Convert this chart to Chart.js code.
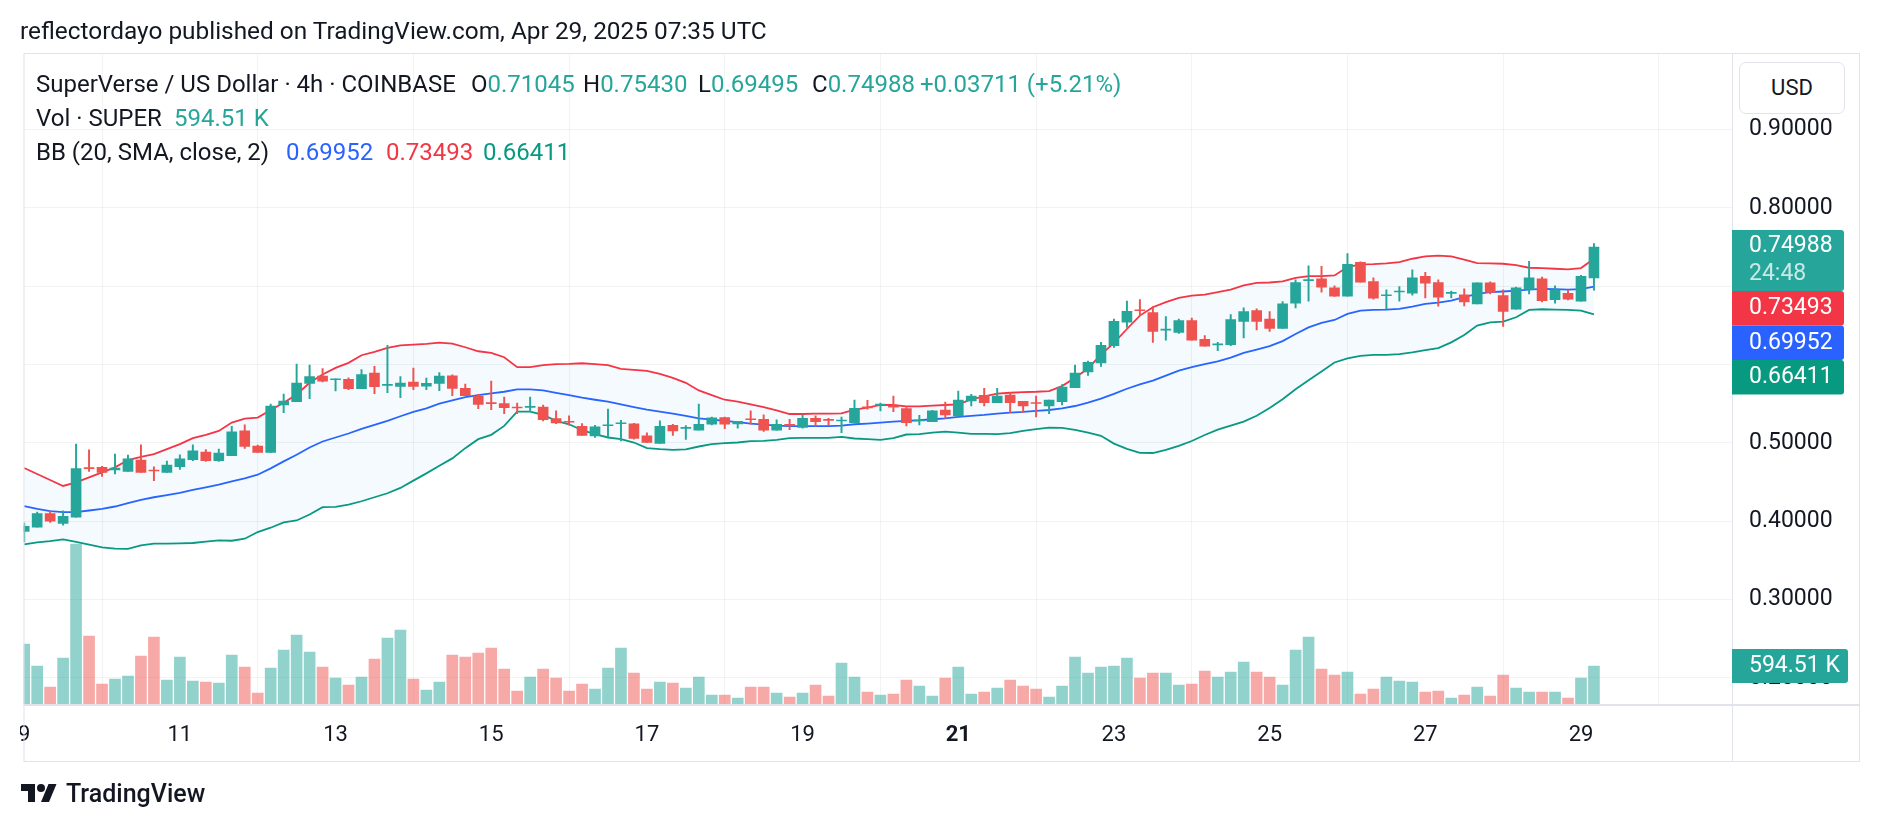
<!DOCTYPE html>
<html>
<head>
<meta charset="utf-8">
<script src="https://cdn.jsdelivr.net/npm/chart.js@4.4.1/dist/chart.umd.min.js"></script>
<style>
  body { margin: 0; background: #fff; font-family: Roboto, sans-serif; color: #131722; }
  #wrap { position: relative; width: 1878px; height: 830px; overflow: hidden; }
  canvas { position: absolute; left: 0; top: 0; }
  .t { position: absolute; white-space: nowrap; line-height: 1; }
  .up { color: #26a69a; }
  #usd { position: absolute; left: 1739px; top: 62px; width: 104px; height: 50px; border: 1px solid #e0e3eb;
         border-radius: 7px; font-size: 22px; line-height: 50px; text-align: center; background: #fff; }
  #clip { position: absolute; left: 0; top: 707px; width: 20px; height: 54px; background: #fff; }
</style>
</head>
<body>
<div id="wrap">
  <canvas id="chart" width="1878" height="830"></canvas>
  <div id="clip"></div>

  <div class="t" style="left:20px;top:19px;font-size:24.4px">reflectordayo published on TradingView.com, Apr 29, 2025 07:35 UTC</div>

  <div class="t" style="left:36px;top:72px;font-size:24px">SuperVerse / US Dollar · 4h · COINBASE</div>
  <div class="t" style="left:471px;top:72px;font-size:24px">O<span class="up">0.71045</span></div>
  <div class="t" style="left:583px;top:72px;font-size:24px">H<span class="up">0.75430</span></div>
  <div class="t" style="left:698px;top:72px;font-size:24px">L<span class="up">0.69495</span></div>
  <div class="t" style="left:812px;top:72px;font-size:24px">C<span class="up">0.74988</span></div>
  <div class="t up" style="left:920px;top:72px;font-size:24px">+0.03711 (+5.21%)</div>

  <div class="t" style="left:36px;top:106px;font-size:24px">Vol · SUPER</div>
  <div class="t up" style="left:174px;top:106px;font-size:24px">594.51 K</div>

  <div class="t" style="left:36px;top:140px;font-size:24px">BB (20, SMA, close, 2)</div>
  <div class="t" style="left:286px;top:140px;font-size:24px;color:#2962ff">0.69952</div>
  <div class="t" style="left:386px;top:140px;font-size:24px;color:#f23645">0.73493</div>
  <div class="t" style="left:483px;top:140px;font-size:24px;color:#089981">0.66411</div>

  <div id="usd">USD</div>

  <svg style="position:absolute;left:21px;top:780px" width="36" height="28" viewBox="0 0 36 28">
    <path d="M14 22H7V11H0V4h14v18z" fill="#131722"/>
    <circle cx="20" cy="8" r="4" fill="#131722"/>
    <path d="M28 22h-8l7.5-18h8L28 22z" fill="#131722"/>
  </svg>
  <div class="t" style="left:66px;top:781px;font-size:25px;font-weight:500">TradingView</div>
</div>

<script>
// 4h bars, index 0 = Apr 9 00:00 UTC, last = Apr 29 04:00 UTC
const dayTicks = [0, 12, 24, 36, 48, 60, 72, 84, 96, 108, 120];
const dayLabels = ['9', '11', '13', '15', '17', '19', '21', '23', '25', '27', '29'];
const priceTicks = [0.2, 0.3, 0.4, 0.5, 0.6, 0.7, 0.8, 0.9];

const opens = [
  0.3869, 0.3924, 0.4098, 0.3971, 0.4051, 0.4678, 0.4687, 0.4653, 0.4636, 0.4780,
  0.4648, 0.4623, 0.4695, 0.4784, 0.4881, 0.4771, 0.4835, 0.5152, 0.4958, 0.4877,
  0.5483, 0.5525, 0.5758, 0.5851, 0.5805, 0.5809, 0.5690, 0.5889, 0.5733, 0.5720,
  0.5775, 0.5724, 0.5758, 0.5855, 0.5695, 0.5597, 0.5508, 0.5500, 0.5457, 0.5453,
  0.5457, 0.5309, 0.5269, 0.5212, 0.5089, 0.5218, 0.5244, 0.5241, 0.5089, 0.4991,
  0.5224, 0.5184, 0.5161, 0.5237, 0.5322, 0.5241, 0.5299, 0.5301, 0.5161, 0.5226,
  0.5195, 0.5313, 0.5290, 0.5278, 0.5258, 0.5451, 0.5481, 0.5459, 0.5436, 0.5278,
  0.5271, 0.5419, 0.5343, 0.5534, 0.5606, 0.5512, 0.5610, 0.5529, 0.5506, 0.5470,
  0.5525, 0.5703, 0.5906, 0.6021, 0.6239, 0.6539, 0.6690, 0.6662, 0.6438, 0.6410,
  0.6560, 0.6320, 0.6250, 0.6252, 0.6551, 0.6688, 0.6581, 0.6462, 0.6782, 0.7071,
  0.7094, 0.6979, 0.6872, 0.7303, 0.7060, 0.6878, 0.6925, 0.6910, 0.7124, 0.7047,
  0.6908, 0.6889, 0.6774, 0.7043, 0.6880, 0.6705, 0.6957, 0.7094, 0.6829, 0.6910,
  0.6808, 0.71045
];
const highs = [
  0.3979, 0.4115, 0.4132, 0.4132, 0.4983, 0.4911, 0.4699, 0.4856, 0.4843, 0.4974,
  0.4695, 0.4767, 0.4847, 0.4974, 0.4915, 0.4919, 0.5212, 0.5229, 0.4970, 0.5495,
  0.5623, 0.6004, 0.5991, 0.5949, 0.5817, 0.5830, 0.5936, 0.5978, 0.6245, 0.5847,
  0.5953, 0.5826, 0.5898, 0.5868, 0.5750, 0.5618, 0.5788, 0.5584, 0.5508, 0.5584,
  0.5483, 0.5407, 0.5343, 0.5246, 0.5224, 0.5432, 0.5288, 0.5250, 0.5127, 0.5280,
  0.5237, 0.5220, 0.5496, 0.5330, 0.5330, 0.5275, 0.5407, 0.5356, 0.5292, 0.5301,
  0.5356, 0.5343, 0.5313, 0.5330, 0.5546, 0.5542, 0.5508, 0.5597, 0.5449, 0.5352,
  0.5415, 0.5521, 0.5661, 0.5618, 0.5695, 0.5695, 0.5639, 0.5529, 0.5597, 0.5546,
  0.5745, 0.5991, 0.6042, 0.6283, 0.6581, 0.6808, 0.6829, 0.6739, 0.6611, 0.6581,
  0.6594, 0.6368, 0.6282, 0.6637, 0.6722, 0.6709, 0.6675, 0.6803, 0.7081, 0.7261,
  0.7252, 0.7004, 0.7415, 0.7312, 0.7107, 0.6953, 0.6996, 0.7209, 0.7175, 0.7081,
  0.6936, 0.6966, 0.7043, 0.7056, 0.6953, 0.6987, 0.7316, 0.7115, 0.7004, 0.6944,
  0.7137, 0.75430
];
const lows = [
  0.3734, 0.3924, 0.3983, 0.3950, 0.4051, 0.4636, 0.4572, 0.4602, 0.4636, 0.4623,
  0.4517, 0.4623, 0.4661, 0.4771, 0.4763, 0.4763, 0.4835, 0.4928, 0.4877, 0.4877,
  0.5385, 0.5525, 0.5563, 0.5779, 0.5661, 0.5678, 0.5690, 0.5627, 0.5639, 0.5576,
  0.5678, 0.5678, 0.5665, 0.5601, 0.5601, 0.5436, 0.5423, 0.5373, 0.5373, 0.5394,
  0.5280, 0.5246, 0.5224, 0.5093, 0.5068, 0.5076, 0.5025, 0.5047, 0.5004, 0.4991,
  0.5093, 0.5042, 0.5161, 0.5229, 0.5182, 0.5186, 0.5237, 0.5144, 0.5161, 0.5169,
  0.5186, 0.5216, 0.5220, 0.5131, 0.5258, 0.5428, 0.5407, 0.5398, 0.5216, 0.5229,
  0.5271, 0.5313, 0.5343, 0.5470, 0.5470, 0.5512, 0.5385, 0.5385, 0.5330, 0.5373,
  0.5483, 0.5703, 0.5860, 0.5974, 0.6218, 0.6474, 0.6624, 0.6282, 0.6312, 0.6397,
  0.6312, 0.6235, 0.6175, 0.6239, 0.6338, 0.6440, 0.6423, 0.6462, 0.6722, 0.6808,
  0.6923, 0.6868, 0.6872, 0.7051, 0.6833, 0.6714, 0.6808, 0.6885, 0.6850, 0.6744,
  0.6850, 0.6748, 0.6774, 0.6902, 0.6487, 0.6705, 0.6902, 0.6799, 0.6782, 0.6825,
  0.6808, 0.69495
];
const closes = [
  0.3933, 0.4098, 0.4000, 0.4060, 0.4670, 0.4670, 0.4623, 0.4678, 0.4797, 0.4623,
  0.4640, 0.4716, 0.4797, 0.4898, 0.4771, 0.4869, 0.5140, 0.4953, 0.4877, 0.5470,
  0.5534, 0.5762, 0.5847, 0.5788, 0.5817, 0.5690, 0.5872, 0.5716, 0.5741, 0.5762,
  0.5720, 0.5758, 0.5851, 0.5695, 0.5601, 0.5491, 0.5500, 0.5449, 0.5445, 0.5461,
  0.5297, 0.5254, 0.5263, 0.5093, 0.5203, 0.5222, 0.5248, 0.5055, 0.5004, 0.5212,
  0.5152, 0.5188, 0.5237, 0.5318, 0.5237, 0.5275, 0.5295, 0.5161, 0.5237, 0.5222,
  0.5313, 0.5271, 0.5286, 0.5282, 0.5440, 0.5447, 0.5485, 0.5455, 0.5258, 0.5282,
  0.5407, 0.5356, 0.5546, 0.5597, 0.5512, 0.5597, 0.5512, 0.5470, 0.5502, 0.5546,
  0.5712, 0.5889, 0.6029, 0.6245, 0.6551, 0.6679, 0.6686, 0.6423, 0.6442, 0.6560,
  0.6312, 0.6235, 0.6254, 0.6573, 0.6675, 0.6551, 0.6462, 0.6774, 0.7047, 0.7075,
  0.6987, 0.6872, 0.7278, 0.7051, 0.6846, 0.6882, 0.6929, 0.7107, 0.7038, 0.6859,
  0.6912, 0.6799, 0.7043, 0.6919, 0.6679, 0.6979, 0.7107, 0.6816, 0.6953, 0.6833,
  0.7124, 0.74988
];
// volume in thousands of SUPER
const volumes = [
  939, 595, 266, 720, 2504, 1064, 313, 391, 438, 751,
  1048, 376, 736, 360, 344, 329, 767, 579, 172, 563,
  845, 1080, 814, 579, 407, 297, 423, 704, 1033, 1158,
  391, 219, 344, 767, 736, 798, 876, 548, 203, 423,
  548, 407, 203, 313, 235, 563, 876, 485, 235, 344,
  329, 250, 423, 141, 141, 94, 266, 266, 172, 110,
  172, 297, 125, 642, 423, 188, 141, 157, 376, 282,
  125, 407, 579, 157, 188, 250, 376, 282, 235, 110,
  282, 736, 485, 579, 595, 720, 407, 485, 485, 297,
  313, 516, 423, 501, 657, 501, 423, 297, 845, 1048,
  548, 454, 501, 157, 235, 423, 360, 344, 188, 203,
  94, 141, 266, 125, 454, 250, 188, 188, 188, 94,
  407, 594.51
];
const bbUpper = [
  0.4678, 0.4602, 0.4526, 0.4449, 0.4496, 0.4559, 0.4623, 0.4687, 0.4780, 0.4822,
  0.4856, 0.4919, 0.4983, 0.5059, 0.5102, 0.5152, 0.5258, 0.5309, 0.5322, 0.5419,
  0.5512, 0.5618, 0.5766, 0.5872, 0.5957, 0.6021, 0.6118, 0.6160, 0.6211, 0.6245,
  0.6254, 0.6262, 0.6279, 0.6266, 0.6220, 0.6169, 0.6148, 0.6093, 0.5966, 0.5966,
  0.5991, 0.6004, 0.6008, 0.6016, 0.6004, 0.5991, 0.5944, 0.5932, 0.5919, 0.5881,
  0.5830, 0.5766, 0.5669, 0.5610, 0.5550, 0.5525, 0.5491, 0.5457, 0.5415, 0.5368,
  0.5368, 0.5373, 0.5373, 0.5377, 0.5423, 0.5449, 0.5483, 0.5483, 0.5466, 0.5466,
  0.5474, 0.5483, 0.5491, 0.5555, 0.5593, 0.5627, 0.5639, 0.5648, 0.5652, 0.5661,
  0.5724, 0.5830, 0.5949, 0.6127, 0.6275, 0.6453, 0.6624, 0.6731, 0.6795, 0.6850,
  0.6880, 0.6893, 0.6923, 0.6957, 0.7009, 0.7043, 0.7047, 0.7060, 0.7107, 0.7128,
  0.7128, 0.7137, 0.7244, 0.7278, 0.7282, 0.7291, 0.7308, 0.7350, 0.7380, 0.7389,
  0.7380, 0.7338, 0.7295, 0.7291, 0.7286, 0.7269, 0.7235, 0.7231, 0.7222, 0.7214,
  0.7231, 0.73493
];
const bbMiddle = [
  0.4191, 0.4157, 0.4127, 0.4115, 0.4115, 0.4136, 0.4157, 0.4187, 0.4229, 0.4271,
  0.4305, 0.4331, 0.4360, 0.4398, 0.4432, 0.4466, 0.4509, 0.4547, 0.4593, 0.4674,
  0.4763, 0.4847, 0.4941, 0.5017, 0.5068, 0.5119, 0.5178, 0.5229, 0.5280, 0.5339,
  0.5394, 0.5440, 0.5500, 0.5542, 0.5584, 0.5610, 0.5631, 0.5652, 0.5682, 0.5682,
  0.5669, 0.5639, 0.5610, 0.5576, 0.5550, 0.5525, 0.5491, 0.5457, 0.5423, 0.5398,
  0.5373, 0.5343, 0.5313, 0.5297, 0.5280, 0.5263, 0.5246, 0.5233, 0.5220, 0.5212,
  0.5212, 0.5212, 0.5212, 0.5220, 0.5237, 0.5246, 0.5258, 0.5271, 0.5280, 0.5288,
  0.5301, 0.5313, 0.5330, 0.5343, 0.5356, 0.5373, 0.5385, 0.5394, 0.5407, 0.5419,
  0.5440, 0.5470, 0.5512, 0.5563, 0.5624, 0.5690, 0.5747, 0.5794, 0.5857, 0.5921,
  0.5966, 0.6006, 0.6040, 0.6087, 0.6149, 0.6191, 0.6234, 0.6298, 0.6390, 0.6474,
  0.6530, 0.6568, 0.6645, 0.6688, 0.6697, 0.6701, 0.6709, 0.6739, 0.6774, 0.6791,
  0.6816, 0.6859, 0.6902, 0.6923, 0.6932, 0.6944, 0.6957, 0.6966, 0.6962, 0.6957,
  0.6962, 0.69952
];
const bbLower = [
  0.3704, 0.3729, 0.3746, 0.3767, 0.3734, 0.3700, 0.3666, 0.3649, 0.3645, 0.3691,
  0.3712, 0.3712, 0.3717, 0.3721, 0.3738, 0.3755, 0.3750, 0.3776, 0.3861, 0.3916,
  0.3983, 0.4009, 0.4085, 0.4178, 0.4182, 0.4212, 0.4254, 0.4305, 0.4356, 0.4424,
  0.4517, 0.4610, 0.4708, 0.4801, 0.4932, 0.5047, 0.5102, 0.5216, 0.5398, 0.5398,
  0.5356, 0.5280, 0.5237, 0.5161, 0.5110, 0.5068, 0.5047, 0.5004, 0.4932, 0.4919,
  0.4911, 0.4915, 0.4953, 0.4983, 0.4996, 0.5004, 0.5021, 0.5025, 0.5038, 0.5059,
  0.5063, 0.5063, 0.5063, 0.5076, 0.5055, 0.5047, 0.5038, 0.5059, 0.5106, 0.5110,
  0.5131, 0.5144, 0.5131, 0.5114, 0.5114, 0.5110, 0.5123, 0.5152, 0.5174, 0.5195,
  0.5190, 0.5165, 0.5131, 0.5089, 0.4990, 0.4923, 0.4872, 0.4870, 0.4911, 0.4961,
  0.5023, 0.5100, 0.5168, 0.5220, 0.5270, 0.5346, 0.5445, 0.5556, 0.5683, 0.5799,
  0.5910, 0.6026, 0.6077, 0.6111, 0.6124, 0.6124, 0.6132, 0.6154, 0.6184, 0.6210,
  0.6282, 0.6376, 0.6496, 0.6539, 0.6547, 0.6603, 0.6697, 0.6705, 0.6701, 0.6697,
  0.6688, 0.66411
];

const UP = '#26a69a', DOWN = '#ef5350';
const GRID = 'rgba(42,46,57,0.06)';
const FONT = 'Roboto, sans-serif';

const isUp = closes.map((c, i) => c >= opens[i]);
const candleColors = isUp.map(u => u ? UP : DOWN);
const volColors = isUp.map(u => u ? 'rgba(38,166,154,0.5)' : 'rgba(239,83,80,0.5)');

const bodyData = closes.map((c, i) => ({ x: i, y: [opens[i], c] }));
const wickData = closes.map((c, i) => ({ x: i, y: [lows[i], highs[i]] }));
const volData = volumes.map((v, i) => ({ x: i, y: v }));
const line = arr => arr.map((v, i) => ({ x: i, y: v }));

// right-hand price / volume labels and pane frame
const sideLabels = {
  id: 'sideLabels',
  afterDraw(chart) {
    const { ctx, chartArea: a } = chart;
    const y = chart.scales.y, yv = chart.scales.yv;
    const frameR = chart.width - 19, frameB = chart.height - 68;
    ctx.save();
    ctx.strokeStyle = '#e0e3eb';
    ctx.lineWidth = 1;
    ctx.strokeRect(a.left + 0.5, a.top - 0.5, frameR - a.left, frameB - a.top);
    ctx.beginPath();
    ctx.moveTo(a.right + 0.5, a.top - 1);
    ctx.lineTo(a.right + 0.5, frameB);
    ctx.stroke();
    ctx.fillStyle = '#e0e3eb';
    ctx.fillRect(a.left, a.bottom, frameR - a.left, 2);

    const tx = a.right + 17;
    ctx.font = '23px ' + FONT;
    ctx.textBaseline = 'middle';
    ctx.textAlign = 'left';
    const box = (top, h, w, color, lines) => {
      ctx.fillStyle = color;
      ctx.beginPath();
      ctx.roundRect(a.right, top, w, h, [0, 3, 3, 0]);
      ctx.fill();
      lines.forEach(l => {
        ctx.fillStyle = l.c || '#fff';
        ctx.fillText(l.t, tx, top + l.dy);
      });
    };
    const last = closes.length - 1;
    const cy = y.getPixelForValue(closes[last]);
    box(cy - 17, 61, 112, UP, [{ t: closes[last].toFixed(5), dy: 16 }, { t: '24:48', dy: 44.5, c: 'rgba(255,255,255,0.75)' }]);
    box(cy + 44, 34.5, 112, '#f23645', [{ t: bbUpper[last].toFixed(5), dy: 17.5 }]);
    box(cy + 78.5, 34.5, 112, '#2962ff', [{ t: bbMiddle[last].toFixed(5), dy: 17.5 }]);
    box(cy + 113, 34.5, 112, '#089981', [{ t: bbLower[last].toFixed(5), dy: 17.5 }]);
    const vy = yv.getPixelForValue(volumes[last]);
    box(vy - 17, 34, 116, UP, [{ t: volumes[last].toFixed(2) + ' K', dy: 17.5 }]);
    ctx.restore();
  }
};

new Chart(document.getElementById('chart'), {
  type: 'bar',
  data: {
    datasets: [
      { type: 'bar', data: volData, yAxisID: 'yv', backgroundColor: volColors, barThickness: 11, grouped: false, order: 4 },
      { type: 'line', data: line(bbUpper), yAxisID: 'y', borderColor: '#f23645', borderWidth: 1.8, pointRadius: 0,
        fill: { target: '+2' }, backgroundColor: 'rgba(33,150,243,0.05)', order: 3 },
      { type: 'line', data: line(bbMiddle), yAxisID: 'y', borderColor: '#2962ff', borderWidth: 1.8, pointRadius: 0, fill: false, order: 3 },
      { type: 'line', data: line(bbLower), yAxisID: 'y', borderColor: '#089981', borderWidth: 1.8, pointRadius: 0, fill: false, order: 3 },
      { type: 'bar', data: wickData, yAxisID: 'y', backgroundColor: candleColors, barThickness: 1.3, grouped: false, order: 2 },
      { type: 'bar', data: bodyData, yAxisID: 'y', backgroundColor: candleColors, barThickness: 10, minBarLength: 1, grouped: false, order: 1 }
    ]
  },
  options: {
    responsive: false,
    animation: false,
    devicePixelRatio: 1,
    layout: { padding: { left: 20, top: 54, right: 19, bottom: 68 } },
    plugins: { legend: { display: false }, tooltip: { enabled: false } },
    scales: {
      x: {
        type: 'linear',
        min: -0.054,
        max: 131.64,
        offset: false,
        grid: { color: GRID, drawTicks: false },
        border: { display: false },
        afterBuildTicks: axis => { axis.ticks = dayTicks.map(v => ({ value: v })); },
        afterFit: axis => { axis.height = 58; },
        ticks: {
          padding: 18,
          color: '#131722',
          maxRotation: 0,
          autoSkip: false,
          font: ctx => ({ family: FONT, size: 22, weight: dayLabels[ctx.index] === '21' ? 'bold' : 'normal' }),
          callback: (v, i) => dayLabels[i]
        }
      },
      y: {
        type: 'linear',
        position: 'right',
        min: 0.16656,
        max: 0.99639,
        grid: { color: GRID, drawTicks: false },
        border: { display: false },
        afterBuildTicks: axis => { axis.ticks = priceTicks.map(v => ({ value: v })); },
        afterFit: axis => { axis.width = 127; },
        ticks: {
          padding: 17,
          color: '#131722',
          font: { family: FONT, size: 23 },
          callback: v => v.toFixed(5)
        }
      },
      yv: { type: 'linear', display: false, min: 0, max: 10170 }
    }
  },
  plugins: [sideLabels]
});
</script>
</body>
</html>
